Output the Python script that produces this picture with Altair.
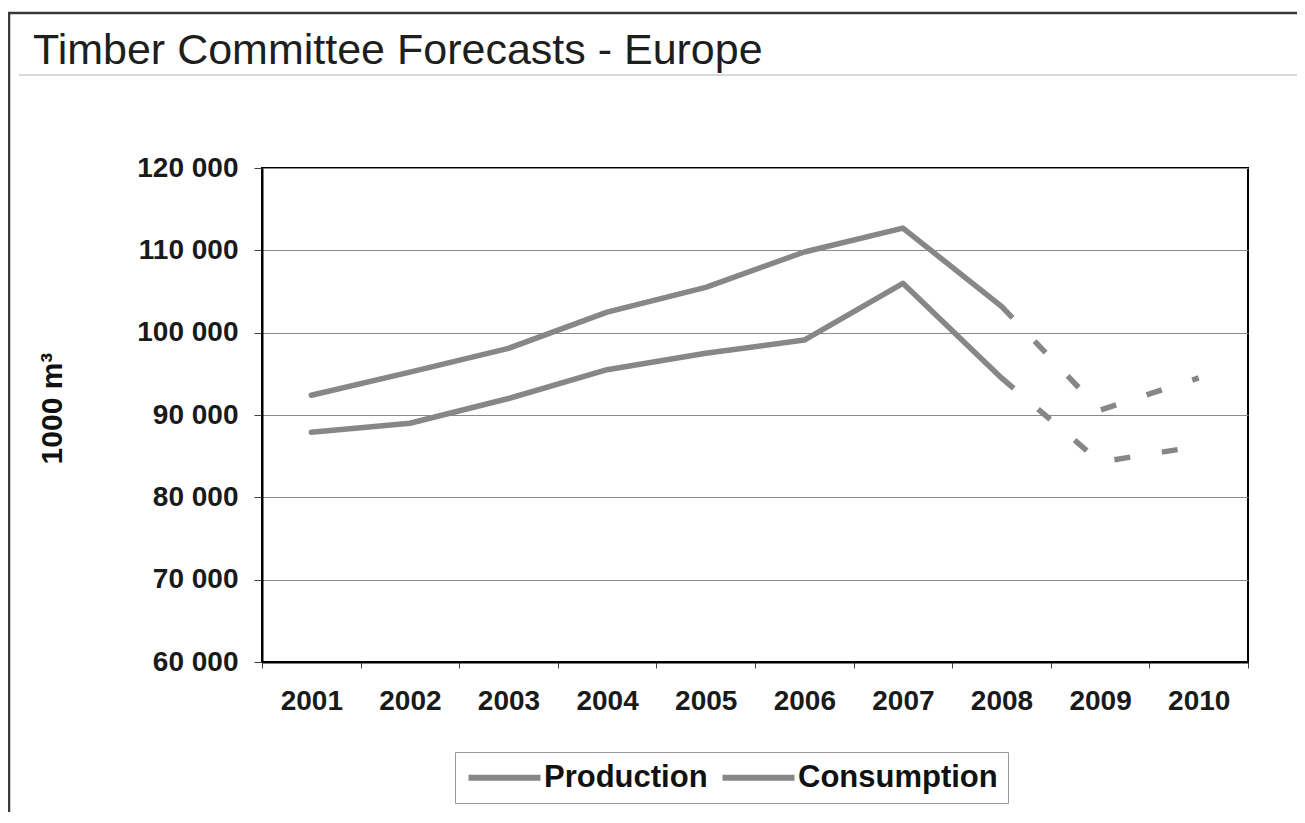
import altair as alt
import pandas as pd

years = ["2001", "2002", "2003", "2004", "2005", "2006", "2007", "2008", "2009", "2010"]
production = [92400, 95200, 98100, 102500, 105500, 109800, 112700, 103200, 90600, 94500]
consumption = [87900, 89000, 92000, 95500, 97500, 99100, 106000, 94500, 84300, 86200]
series_names = ["Production", "Consumption"]
forecast_start = "2008"
y_ticks = [60000, 70000, 80000, 90000, 100000, 110000, 120000]

rows = []
for name, vals in zip(series_names, [production, consumption]):
    for i, (yr, v) in enumerate(zip(years, vals)):
        rows.append({"year": yr, "value": v, "series": name, "idx": i})
df = pd.DataFrame(rows)
split = years.index(forecast_start)
df_solid = df[df["idx"] <= split]
df_dash = df[df["idx"] >= split]

FONT = "Liberation Sans"
GRAY = "#878787"

W, H = 986, 494

x_enc = alt.X(
    "year:O",
    bandPosition=0.5,
    scale=alt.Scale(type="band", domain=years, paddingInner=0, paddingOuter=0),
    axis=alt.Axis(
        title=None, labelAngle=0, tickBand="extent", tickSize=6, tickColor="#444444",
        labelFontSize=28, labelFontWeight="bold", labelFont=FONT, labelColor="#1a1a1a",
        labelPadding=19, labelBaseline="top", domainColor="black", domainWidth=2,
    ),
)
y_enc = alt.Y(
    "value:Q",
    scale=alt.Scale(domain=[60000, 120000], nice=False, zero=False),
    axis=alt.Axis(
        values=y_ticks, title="1000 m³",
        labelExpr="replace(format(datum.value, ','), ',', ' ')",
        labelFontSize=28, labelFontWeight="bold", labelFont=FONT, labelColor="#1a1a1a",
        tickSize=8, tickColor="#444444", labelPadding=16,
        grid=True, gridColor="#8a8a8a", gridWidth=1,
        domainColor="black", domainWidth=2,
        titleFont=FONT, titleFontSize=30, titleFontWeight="bold", titleColor="#111111",
        titleAngle=-90, titleX=-210, titleY=240, titleAlign="center", titleBaseline="middle",
    ),
)

color_enc = alt.Color(
    "series:N",
    scale=alt.Scale(domain=series_names, range=[GRAY, GRAY]),
    legend=alt.Legend(
        title=None, orient="none", legendX=193, legendY=584, direction="horizontal",
        symbolType="M-3,0H3", symbolSize=576, symbolStrokeWidth=6, symbolOffset=24,
        symbolFillColor=GRAY,
        labelOffset=24, labelFontSize=31, labelFontWeight="bold", labelFont=FONT,
        labelColor="#111111", columnPadding=2, padding=10,
        strokeColor="#9a9a9a", labelLimit=400,
    ),
)

solid = alt.Chart(df_solid).mark_line(
    strokeWidth=5.5, strokeJoin="round", strokeCap="round"
).encode(x=x_enc, y=y_enc, color=color_enc, detail="series:N", order="idx:Q")

dashed = alt.Chart(df_dash).mark_line(
    strokeWidth=5.5, strokeDash=[16, 32], strokeJoin="round"
).encode(
    x=x_enc, y=y_enc,
    color=alt.Color("series:N", scale=alt.Scale(domain=series_names, range=[GRAY, GRAY]), legend=None),
    detail="series:N", order="idx:Q",
)

one = pd.DataFrame({"t": ["Timber Committee Forecasts - Europe"]})

frame = alt.Chart(one).mark_rect(fill="transparent", stroke="#3a3a3a", strokeWidth=2.5).encode(
    x=alt.value(-253), x2=alt.value(1100), y=alt.value(-155), y2=alt.value(700)
)
title_rule = alt.Chart(one).mark_rule(color="#cccccc", strokeWidth=1.5).encode(
    x=alt.value(-243), x2=alt.value(1100), y=alt.value(-93)
)
title_text = alt.Chart(one).mark_text(
    align="left", baseline="alphabetic", fontSize=43, font=FONT, color="#1e1e1e"
).encode(x=alt.value(-229), y=alt.value(-104), text="t:N")

chart = alt.layer(frame, title_rule, title_text, solid, dashed).properties(
    width=W, height=H,
    autosize=alt.AutoSizeParams(type="none"),
    padding={"left": 254, "top": 160, "right": 49, "bottom": 150},
    background="white",
).configure_view(stroke="black", strokeWidth=2)

chart.save("out.html", embed_options={"renderer": "svg", "actions": False})
